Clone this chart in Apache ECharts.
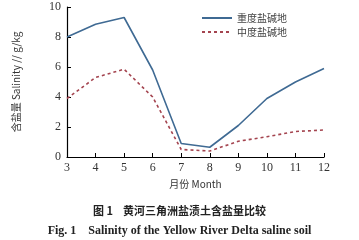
<!DOCTYPE html>
<html>
<head>
<meta charset="utf-8">
<script src="https://cdn.jsdelivr.net/npm/echarts@6/dist/echarts.min.js"></script>
<style>
    html, body { margin: 0; padding: 0; background: #fff; }
    #chart { width: 359px; height: 240px; }
</style>
</head>
<body>
<div id="chart"></div>
<script>
// 月份
var months = ['3', '4', '5', '6', '7', '8', '9', '10', '11', '12'];
// 重度盐碱地 g/kg
var heavySaline = [8.0, 8.85, 9.3, 5.8, 0.9, 0.65, 2.1, 3.9, 5.0, 5.9];
// 中度盐碱地 g/kg
var mediumSaline = [3.9, 5.3, 5.85, 4.0, 0.5, 0.4, 1.05, 1.35, 1.7, 1.8];

var serif = '"Liberation Serif", "DejaVu Serif", serif';
var cjk = '"Noto Sans CJK SC", sans-serif';

var myChart = echarts.init(document.getElementById('chart'));
var option = {
    animation: false,
    backgroundColor: '#fff',
    title: [{
        text: '图 1    黄河三角洲盐渍土含盐量比较',
        left: 'center',
        top: 200,
        textStyle: { fontFamily: cjk, fontSize: 11, fontWeight: 'bold', color: '#222' }
    }, {
        text: 'Fig. 1    Salinity of the Yellow River Delta saline soil',
        left: 'center',
        top: 220,
        textStyle: { fontFamily: serif, fontSize: 12, fontWeight: 'bold', color: '#222' }
    }],
    legend: {
        orient: 'vertical',
        left: 196,
        top: 8,
        itemWidth: 30,
        itemHeight: 10,
        itemGap: 4,
        itemStyle: { opacity: 0 },
        textStyle: { fontFamily: cjk, fontSize: 10, color: '#444' },
        data: ['重度盐碱地', '中度盐碱地']
    },
    grid: { left: 67, right: 35, top: 7, bottom: 83 },
    xAxis: {
        type: 'category',
        data: months,
        boundaryGap: false,
        name: '月份 Month',
        nameLocation: 'middle',
        nameGap: 22,
        nameTextStyle: { fontFamily: cjk, fontSize: 10, color: '#333' },
        axisLine: { lineStyle: { color: '#000', width: 1.2 } },
        axisTick: { inside: true, length: 4, lineStyle: { color: '#000' } },
        axisLabel: { fontFamily: serif, fontSize: 12, color: '#333', margin: 5 }
    },
    yAxis: {
        type: 'value',
        min: 0,
        max: 10,
        interval: 2,
        name: '含盐量 Salinity // g/kg',
        nameLocation: 'middle',
        nameGap: 46,
        nameTextStyle: { fontFamily: cjk, fontSize: 10, color: '#333' },
        splitLine: { show: false },
        axisLine: { show: true, lineStyle: { color: '#000', width: 1.2 } },
        axisTick: { show: true, inside: true, length: 4, lineStyle: { color: '#000' } },
        axisLabel: { fontFamily: serif, fontSize: 12, color: '#333', margin: 6 }
    },
    series: [{
        name: '重度盐碱地',
        type: 'line',
        data: heavySaline,
        symbol: 'none',
        lineStyle: { color: '#3f6a93', width: 1.6, type: 'solid' },
        itemStyle: { color: '#3f6a93' }
    }, {
        name: '中度盐碱地',
        type: 'line',
        data: mediumSaline,
        symbol: 'none',
        lineStyle: { color: '#a4444f', width: 1.6, type: [3, 3] },
        itemStyle: { color: '#a4444f' }
    }]
};
myChart.setOption(option);
</script>
</body>
</html>
